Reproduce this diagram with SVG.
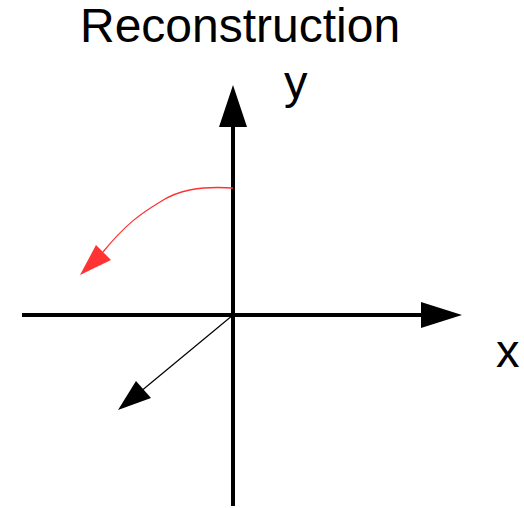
<svg xmlns="http://www.w3.org/2000/svg" width="524" height="508" viewBox="0 0 524 508">
<style>
text{font-family:"Liberation Sans",Arial,sans-serif;fill:#000;font-size:47px}
.title{font-size:48px}
.axis{stroke:#000;stroke-width:4;fill:none}
</style>
<rect width="524" height="508" fill="#fff"/>
<g id="connectors">
<line class="axis" x1="233" y1="506" x2="233" y2="125"/>
<polygon points="233,85 219,127 247,127" fill="#000"/>
<line class="axis" x1="22" y1="315" x2="423" y2="315"/>
<polygon points="462,315 421,302 421,328" fill="#000"/>
<line x1="233" y1="315" x2="140" y2="392" stroke="#000" stroke-width="1.2"/>
<polygon points="118,410 136,381 151,398" fill="#000"/>
<path d="M233,188 C200,186 178,190 160,202 C140,214 125,225 103,252" stroke="#ff3333" stroke-width="1.3" fill="none"/>
<polygon points="80,275 96,245 111,260" fill="#ff3333"/>
</g>
<g id="title"><text class="title" x="80" y="42">Reconstruction</text></g>
<g id="label-y"><text x="284" y="98">y</text></g>
<g id="label-x"><text x="496" y="367">x</text></g>
</svg>
